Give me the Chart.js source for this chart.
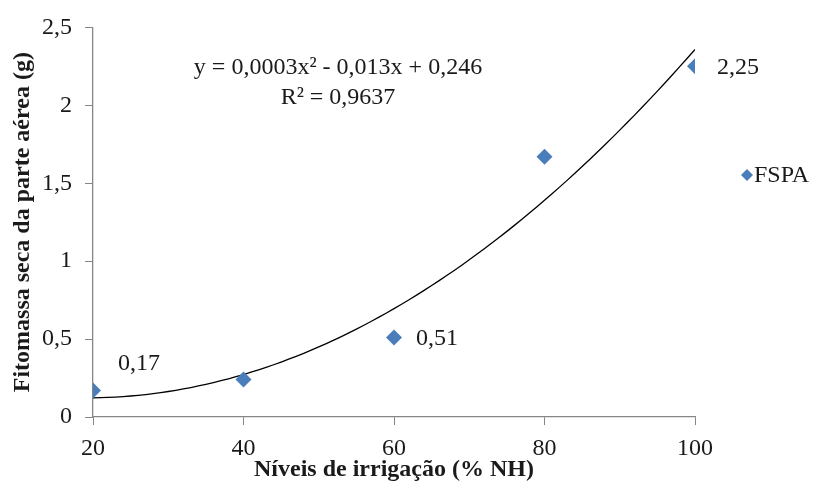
<!DOCTYPE html>
<html>
<head>
<meta charset="utf-8">
<script src="https://cdn.jsdelivr.net/npm/chart.js@4/dist/chart.umd.min.js"></script>
<style>
  html, body { margin: 0; padding: 0; background: #fff; }
</style>
</head>
<body>
<canvas id="chart" width="816" height="492"></canvas>
<script>
// irrigation level (% NH) and shoot dry mass (g)
const irrigationLevels = [20, 40, 60, 80, 100];
const shootDryMass = [0.17, 0.24, 0.51, 1.67, 2.25];
const labelledPoints = [0, 2, 4];

const xTicks = [20, 40, 60, 80, 100];
const yTicks = [0, 0.5, 1, 1.5, 2, 2.5];

const seriesName = "FSPA";
const equationText = "y = 0,0003x² - 0,013x + 0,246";
const r2Text = "R² = 0,9637";

const FONT = "'Liberation Serif', 'Times New Roman', serif";
const TEXT = "#1a1a1a";
const AXIS = "#868686";
const BLUE = "#4a7ebb";

const comma = (v) => String(v).replace(".", ",");

// least squares fit of y = a x^2 + b x + c
function fitQuadratic(xs, ys) {
  const s = [0, 0, 0, 0, 0];
  const t = [0, 0, 0];
  xs.forEach((x, i) => {
    for (let k = 0; k < 5; k++) s[k] += x ** k;
    for (let k = 0; k < 3; k++) t[k] += ys[i] * x ** k;
  });
  const m = [
    [s[4], s[3], s[2], t[2]],
    [s[3], s[2], s[1], t[1]],
    [s[2], s[1], s[0], t[0]],
  ];
  for (let i = 0; i < 3; i++) {
    for (let j = i + 1; j < 3; j++) {
      const f = m[j][i] / m[i][i];
      for (let k = i; k < 4; k++) m[j][k] -= f * m[i][k];
    }
  }
  const r = [0, 0, 0];
  for (let i = 2; i >= 0; i--) {
    let v = m[i][3];
    for (let k = i + 1; k < 3; k++) v -= m[i][k] * r[k];
    r[i] = v / m[i][i];
  }
  return r;
}

const [qa, qb, qc] = fitQuadratic(irrigationLevels, shootDryMass);
const trend = [];
for (let x = xTicks[0]; x <= xTicks[xTicks.length - 1]; x += 1) {
  trend.push({ x: x, y: qa * x * x + qb * x + qc });
}

// value labels next to some of the points
const valueLabels = {
  id: "valueLabels",
  afterDatasetsDraw(chart) {
    const { ctx } = chart;
    const meta = chart.getDatasetMeta(0);
    ctx.save();
    ctx.font = `24px ${FONT}`;
    ctx.fillStyle = TEXT;
    ctx.textBaseline = "middle";
    labelledPoints.forEach((i) => {
      const pt = meta.data[i];
      // the first label sits above the curve, the others to the right
      const dx = i === 0 ? 25 : 22;
      const dy = i === 0 ? -27 : 1;
      ctx.fillText(comma(shootDryMass[i]), pt.x + dx, pt.y + dy);
    });
    ctx.restore();
  },
};

// trendline equation and legend
const annotations = {
  id: "annotations",
  afterDraw(chart) {
    const { ctx, chartArea } = chart;
    ctx.save();
    ctx.font = `24px ${FONT}`;
    ctx.fillStyle = TEXT;
    ctx.textBaseline = "middle";
    ctx.textAlign = "center";
    ctx.fillText(equationText, 338, 68);
    ctx.fillText(r2Text, 338, 98);

    const lx = chartArea.right + 52;
    const ly = 175;
    ctx.fillStyle = BLUE;
    ctx.beginPath();
    ctx.moveTo(lx - 6, ly);
    ctx.lineTo(lx, ly - 6);
    ctx.lineTo(lx + 6, ly);
    ctx.lineTo(lx, ly + 6);
    ctx.closePath();
    ctx.fill();
    ctx.fillStyle = TEXT;
    ctx.textAlign = "left";
    ctx.fillText(seriesName, lx + 7, ly + 1);
    ctx.restore();
  },
};

new Chart(document.getElementById("chart"), {
  type: "scatter",
  data: {
    datasets: [
      {
        label: seriesName,
        data: irrigationLevels.map((x, i) => ({ x: x, y: shootDryMass[i] })),
        pointStyle: "rectRot",
        pointRadius: 8,
        pointBackgroundColor: BLUE,
        pointBorderColor: BLUE,
        pointBorderWidth: 0,
      },
      {
        type: "line",
        label: "trend",
        data: trend,
        borderColor: "#000",
        borderWidth: 1.3,
        pointRadius: 0,
        fill: false,
        tension: 0,
      },
    ],
  },
  options: {
    responsive: false,
    animation: false,
    layout: { padding: { top: 23, right: 121, bottom: 0, left: 0 } },
    plugins: {
      legend: { display: false },
      tooltip: { enabled: false },
    },
    scales: {
      x: {
        type: "linear",
        min: xTicks[0],
        max: xTicks[xTicks.length - 1],
        afterBuildTicks: (s) => {
          s.ticks = xTicks.map((v) => ({ value: v }));
        },
        afterFit: (s) => {
          s.height = 75;
        },
        grid: { drawOnChartArea: false, tickLength: 8, color: AXIS },
        border: { color: AXIS, width: 1.3 },
        ticks: {
          color: TEXT,
          padding: 9,
          font: { family: FONT, size: 24 },
          callback: (v) => comma(v),
        },
        title: {
          display: true,
          text: "Níveis de irrigação (% NH)",
          color: TEXT,
          font: { family: FONT, size: 24, weight: "bold" },
          padding: { top: 0, bottom: 8 },
        },
      },
      y: {
        min: yTicks[0],
        max: yTicks[yTicks.length - 1],
        afterBuildTicks: (s) => {
          s.ticks = yTicks.map((v) => ({ value: v }));
        },
        afterFit: (s) => {
          s.width = 93;
        },
        grid: { drawOnChartArea: false, tickLength: 8, color: AXIS },
        border: { color: AXIS, width: 1.3 },
        ticks: {
          color: TEXT,
          padding: 13,
          font: { family: FONT, size: 24 },
          callback: (v) => comma(v),
        },
        title: {
          display: true,
          text: "Fitomassa seca da parte aérea (g)",
          color: TEXT,
          font: { family: FONT, size: 24, weight: "bold" },
          padding: { top: 8, bottom: 10 },
        },
      },
    },
  },
  plugins: [valueLabels, annotations],
});
</script>
</body>
</html>
